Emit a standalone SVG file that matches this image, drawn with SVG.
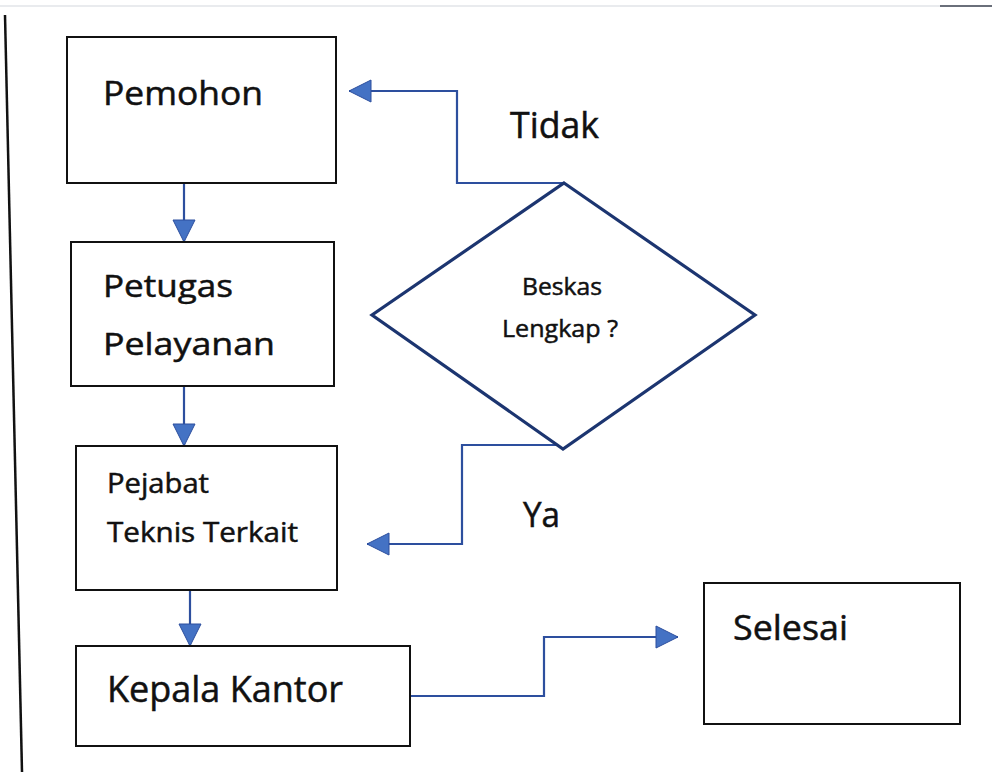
<svg xmlns="http://www.w3.org/2000/svg" width="992" height="772" viewBox="0 0 992 772">
<defs>
<style>
.box{fill:#fff;stroke:#111;stroke-width:2}
.dia{fill:#fff;stroke:#1c3570;stroke-width:3.2;stroke-linejoin:miter}
.con{fill:none;stroke:#2d4f9e;stroke-width:2.2}
.t{font-family:"Open Sans","Noto Sans","Liberation Sans",sans-serif;fill:#111;stroke:#111;stroke-width:0.5}
</style>
<marker id="ah" markerUnits="userSpaceOnUse" markerWidth="24" markerHeight="24" viewBox="0 0 24 24" refX="23" refY="12" orient="auto">
<path d="M1,1 L23,12 L1,23 Z" fill="#4472c4" stroke="#2d4f9e" stroke-width="1"/>
</marker>
</defs>
<rect width="992" height="772" fill="#fff"/>
<line x1="0" y1="6" x2="992" y2="6" stroke="#cfd3da" stroke-width="1.5" opacity="0.6"/>
<line x1="940" y1="6" x2="992" y2="6" stroke="#6a6f7a" stroke-width="2"/>
<line x1="5" y1="15" x2="22" y2="772" stroke="#111" stroke-width="2.5"/>

<g id="connectors">
<path class="con" d="M184,183 V242" marker-end="url(#ah)"/>
<path class="con" d="M184,386 V446" marker-end="url(#ah)"/>
<path class="con" d="M190,590 V646" marker-end="url(#ah)"/>
<path class="con" d="M563,183 H457 V91 H349" marker-end="url(#ah)"/>
<path class="con" d="M556,445 H462 V544 H367" marker-end="url(#ah)"/>
<path class="con" d="M410,696 H544 V637 H678" marker-end="url(#ah)"/>
</g>

<g id="pemohon">
<rect class="box" x="67" y="37" width="269" height="146"/>
<text class="t" x="103" y="105" font-size="32" textLength="160" lengthAdjust="spacingAndGlyphs">Pemohon</text>
</g>
<g id="petugas">
<rect class="box" x="71" y="242" width="263" height="144"/>
<text class="t" x="103" y="297" font-size="31" textLength="130" lengthAdjust="spacingAndGlyphs">Petugas</text>
<text class="t" x="103" y="355" font-size="31" textLength="172" lengthAdjust="spacingAndGlyphs">Pelayanan</text>
</g>
<g id="pejabat">
<rect class="box" x="76" y="446" width="261" height="144"/>
<text class="t" x="107" y="493" font-size="27" textLength="102" lengthAdjust="spacingAndGlyphs">Pejabat</text>
<text class="t" x="107" y="542" font-size="27" textLength="191" lengthAdjust="spacingAndGlyphs">Teknis Terkait</text>
</g>
<g id="kepala">
<rect class="box" x="76" y="646" width="334" height="100"/>
<text class="t" x="107" y="702" font-size="36" textLength="236" lengthAdjust="spacingAndGlyphs">Kepala Kantor</text>
</g>
<g id="selesai">
<rect class="box" x="704" y="583" width="256" height="141"/>
<text class="t" x="733" y="640" font-size="35" textLength="115" lengthAdjust="spacingAndGlyphs">Selesai</text>
</g>
<g id="decision">
<polygon class="dia" points="564,183 755,315 563,449 372,315"/>
<text class="t" x="522" y="295" font-size="24" textLength="80" lengthAdjust="spacingAndGlyphs" stroke-width="0.3">Beskas</text>
<text class="t" x="502" y="337" font-size="24" textLength="116" lengthAdjust="spacingAndGlyphs" stroke-width="0.3">Lengkap ?</text>
</g>
<g id="labels">
<text class="t" x="510" y="138" font-size="36" textLength="89" lengthAdjust="spacingAndGlyphs">Tidak</text>
<text class="t" x="523" y="527" font-size="34" textLength="37" lengthAdjust="spacingAndGlyphs">Ya</text>
</g>
</svg>
